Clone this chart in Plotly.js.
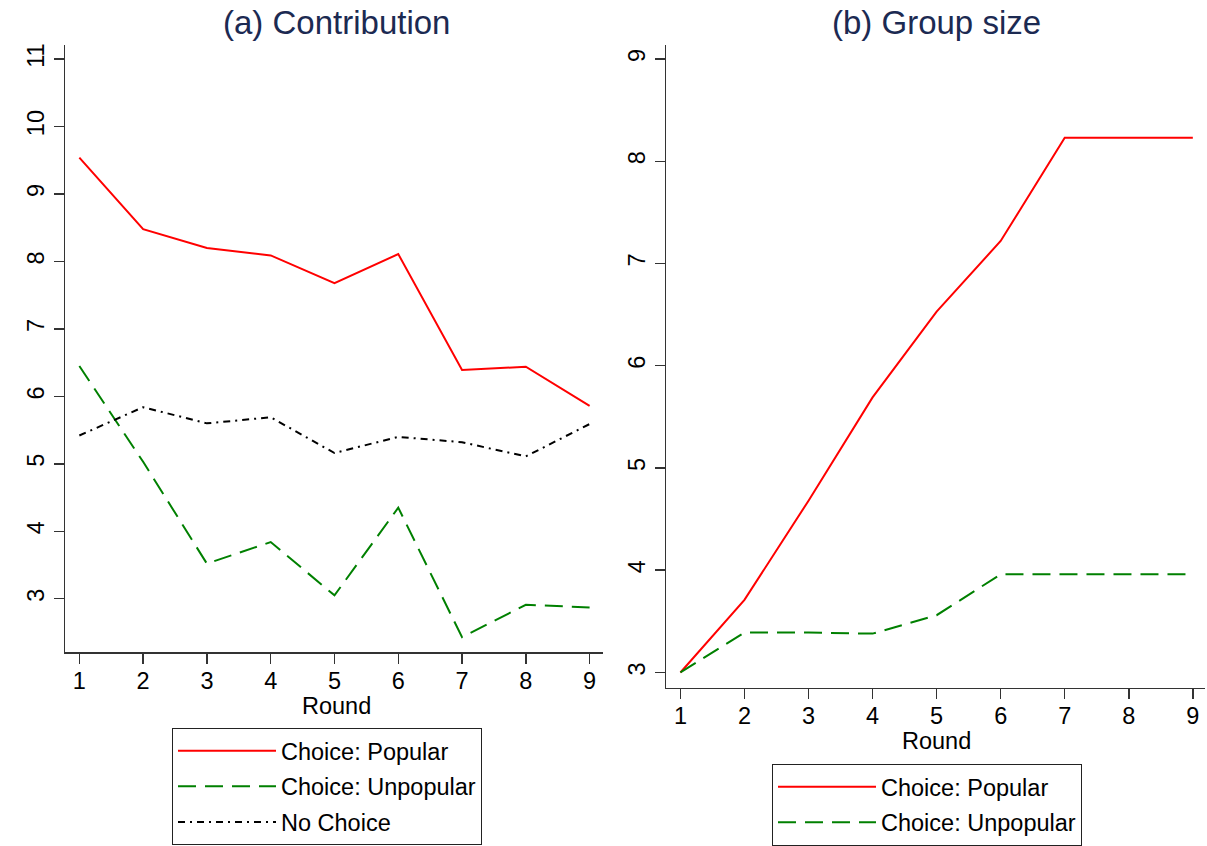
<!DOCTYPE html>
<html>
<head>
<meta charset="utf-8">
<script src="https://cdn.plot.ly/plotly-3.0.1.min.js"></script>
<style>html,body{margin:0;padding:0;background:#fff;}#chart{width:1207px;height:846px;}</style>
</head>
<body>
<div id="chart"></div>
<script>
// ---- data ----
const rounds = [1, 2, 3, 4, 5, 6, 7, 8, 9];
const contribPopular   = [9.54, 8.48, 8.20, 8.09, 7.68, 8.11, 6.39, 6.44, 5.86];
const contribUnpopular = [6.45, 5.03, 3.52, 3.84, 3.05, 4.35, 2.43, 2.91, 2.87];
const contribNoChoice  = [5.42, 5.84, 5.60, 5.69, 5.16, 5.40, 5.32, 5.11, 5.59];
const sizePopular   = [3.00, 3.71, 4.68, 5.69, 6.53, 7.22, 8.23, 8.23, 8.23];
const sizeUnpopular = [3.00, 3.39, 3.39, 3.38, 3.56, 3.96, 3.96, 3.96, 3.96];
const leftYTicks  = [3, 4, 5, 6, 7, 8, 9, 10, 11];
const rightYTicks = [3, 4, 5, 6, 7, 8, 9];
const panelTitles = ['(a) Contribution', '(b) Group size'];
const xTitle = 'Round';
const seriesNames = ['Choice: Popular', 'Choice: Unpopular', 'No Choice'];

const W = 1207, H = 846;
const FONT = 'Arial, "Liberation Sans", Helvetica, sans-serif';
const RED = '#ff0000', GREEN = '#008000', BLACK = '#000000';
const dashG = '18px,9px';
const dashK = '7px,5px,2px,5px';
const SMALL = 23.5;

const traces = [
  {x: rounds, y: contribPopular, xaxis: 'x', yaxis: 'y', name: seriesNames[0], legend: 'legend', legendgroup: 'a1',
   mode: 'lines', line: {color: RED, width: 2}},
  {x: rounds, y: contribUnpopular, xaxis: 'x', yaxis: 'y', name: seriesNames[1], legend: 'legend', legendgroup: 'a2',
   mode: 'lines', line: {color: GREEN, width: 2, dash: dashG}},
  {x: rounds, y: contribNoChoice, xaxis: 'x', yaxis: 'y', name: seriesNames[2], legend: 'legend', legendgroup: 'a3',
   mode: 'lines', line: {color: BLACK, width: 2, dash: dashK}},
  {x: rounds, y: sizePopular, xaxis: 'x2', yaxis: 'y2', name: seriesNames[0], legend: 'legend2', legendgroup: 'b1',
   mode: 'lines', line: {color: RED, width: 2}},
  {x: rounds, y: sizeUnpopular, xaxis: 'x2', yaxis: 'y2', name: seriesNames[1], legend: 'legend2', legendgroup: 'b2',
   mode: 'lines', line: {color: GREEN, width: 2, dash: dashG}}
];

const px = v => v / W;
const py = v => 1 - v / H;

const axisCommon = {
  showline: true, linecolor: '#333', linewidth: 1.5, mirror: false,
  ticks: 'outside', ticklen: 10, tickwidth: 1.5, tickcolor: '#333',
  showgrid: false, zeroline: false,
  tickfont: {family: FONT, size: SMALL, color: '#000'}
};

const legendCommon = {
  xanchor: 'left', yanchor: 'top', bgcolor: '#fff', bordercolor: '#222', borderwidth: 1,
  font: {family: FONT, size: SMALL, color: '#000'}, itemwidth: 98, tracegroupgap: 2,
  orientation: 'v', itemclick: false, itemdoubleclick: false
};

const layout = {
  width: W, height: H,
  margin: {l: 0, r: 0, t: 0, b: 0},
  paper_bgcolor: '#fff', plot_bgcolor: '#fff',
  font: {family: FONT, color: '#000'},
  showlegend: true,
  xaxis: Object.assign({}, axisCommon, {domain: [px(65), px(603)], range: [0.775, 9.21], tickvals: rounds, anchor: 'y', ticklabelstandoff: -3}),
  yaxis: Object.assign({}, axisCommon, {domain: [py(652), py(45)], range: [2.21, 11.21], tickvals: leftYTicks, tickangle: -90, anchor: 'x'}),
  xaxis2: Object.assign({}, axisCommon, {domain: [px(666), px(1205)], range: [0.775, 9.19], tickvals: rounds, anchor: 'y2', ticklabelstandoff: -3}),
  yaxis2: Object.assign({}, axisCommon, {domain: [py(687.5), py(45)], range: [2.853, 9.137], tickvals: rightYTicks, tickangle: -90, anchor: 'x2'}),
  legend: Object.assign({}, legendCommon, {x: px(172), y: py(728)}),
  legend2: Object.assign({}, legendCommon, {x: px(772), y: py(764)}),
  annotations: [
    {text: panelTitles[0], xref: 'paper', yref: 'paper', x: px(336), y: py(22), xanchor: 'center', yanchor: 'middle',
     showarrow: false, font: {family: FONT, size: 33, color: '#1c2a52'}},
    {text: panelTitles[1], xref: 'paper', yref: 'paper', x: px(936), y: py(22), xanchor: 'center', yanchor: 'middle',
     showarrow: false, font: {family: FONT, size: 33, color: '#1c2a52'}},
    {text: xTitle, xref: 'paper', yref: 'paper', x: px(336), y: py(706), xanchor: 'center', yanchor: 'middle',
     showarrow: false, font: {family: FONT, size: SMALL, color: '#000'}},
    {text: xTitle, xref: 'paper', yref: 'paper', x: px(936), y: py(741), xanchor: 'center', yanchor: 'middle',
     showarrow: false, font: {family: FONT, size: SMALL, color: '#000'}}
  ]
};

Plotly.newPlot('chart', traces, layout, {displayModeBar: false, staticPlot: true});
</script>
</body>
</html>
